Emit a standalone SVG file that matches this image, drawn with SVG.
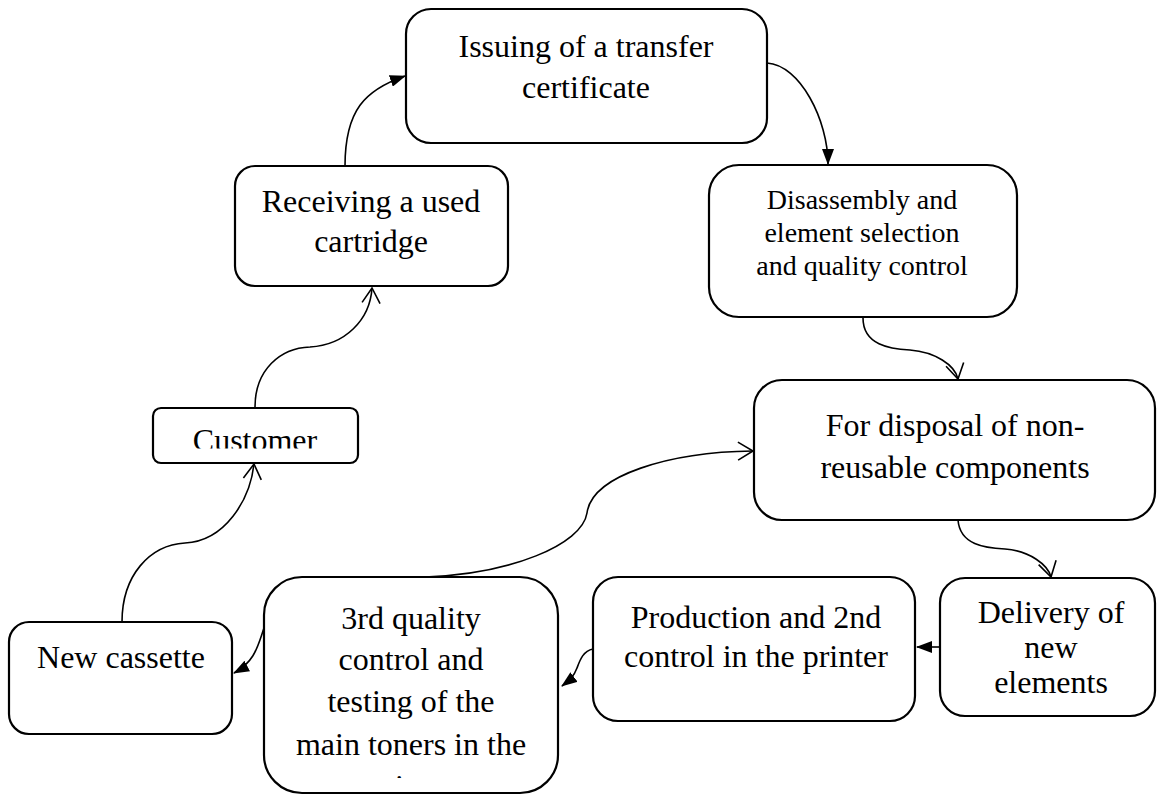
<svg xmlns="http://www.w3.org/2000/svg" width="1158" height="797" viewBox="0 0 1158 797">
<style>
.box{fill:#fff;stroke:#000;stroke-width:2.2}
.t{font-family:"Liberation Serif","Times New Roman",serif;font-size:32px;fill:#000;text-anchor:middle}
.s{font-size:28px}
.c{fill:none;stroke:#000;stroke-width:1.6}
.fa{marker-end:url(#fa)}
.oa{marker-end:url(#oa)}
</style>
<defs>
<marker id="fa" markerUnits="userSpaceOnUse" markerWidth="16" markerHeight="12" viewBox="0 0 16 12" refX="15" refY="6" orient="auto">
<path d="M0,0 L16,6 L0,12 z" fill="#000"/>
</marker>
<marker id="oa" markerUnits="userSpaceOnUse" markerWidth="22" markerHeight="22" viewBox="0 0 22 22" refX="18" refY="11" orient="auto">
<path d="M3,2 L18,11 L3,20" fill="none" stroke="#000" stroke-width="1.6"/>
</marker>
<clipPath id="clipCust"><rect x="150" y="405" width="212" height="43.5"/></clipPath>
<clipPath id="clipQ"><rect x="260" y="575" width="300" height="203"/></clipPath>
</defs>
<g id="connectors">
<path class="c fa" d="M345,166 C345,110 365,90 405,76"/>
<path class="c fa" d="M767,63 C800,65 828,120 828,164"/>
<path class="c oa" d="M863,318 C863,345 890,349 910,350 C935,352 955,365 958,379"/>
<path class="c oa" d="M958,520 C960,545 985,548 1005,549 C1030,551 1048,565 1051,577"/>
<path class="c fa" d="M940,647 L917,647"/>
<path class="c fa" d="M593,649 C583,651 580,660 577,668 C574,676 570,680 562,686"/>
<path class="c fa" d="M264,628 C258,645 255,662 234,673"/>
<path class="c oa" d="M122,622 C122,575 150,545 185,543 C225,541 250,500 254,464"/>
<path class="c oa" d="M255,407 C255,370 280,348 310,347 C345,345 370,320 372,288"/>
<path class="c oa" d="M425,577 C510,574 582,545 587,513 C592,475 670,452 753,451"/>
</g>
<g id="issuing">
<rect class="box" x="406" y="9" width="361" height="134" rx="25"/>
<text class="t" x="586" y="57">Issuing of a transfer</text>
<text class="t" x="586" y="98">certificate</text>
</g>
<g id="receiving">
<rect class="box" x="235" y="166" width="273" height="120" rx="20"/>
<text class="t" x="371" y="212">Receiving a used</text>
<text class="t" x="371" y="252">cartridge</text>
</g>
<g id="disassembly">
<rect class="box" x="709" y="165" width="308" height="152" rx="30"/>
<text class="t s" x="862" y="209">Disassembly and</text>
<text class="t s" x="862" y="242">element selection</text>
<text class="t s" x="862" y="275">and quality control</text>
</g>
<g id="disposal">
<rect class="box" x="754" y="380" width="401" height="140" rx="28"/>
<text class="t" x="955" y="436">For disposal of non-</text>
<text class="t" x="955" y="478">reusable components</text>
</g>
<g id="delivery">
<rect class="box" x="940" y="578" width="215" height="138" rx="25"/>
<text class="t" x="1051" y="623">Delivery of</text>
<text class="t" x="1051" y="658">new</text>
<text class="t" x="1051" y="693">elements</text>
</g>
<g id="production">
<rect class="box" x="593" y="577" width="322" height="144" rx="25"/>
<text class="t" x="756" y="628">Production and 2nd</text>
<text class="t" x="756" y="667">control in the printer</text>
</g>
<g id="quality">
<rect class="box" x="264" y="577" width="294" height="216" rx="38"/>
<text class="t" x="411" y="629">3rd quality</text>
<text class="t" x="411" y="670">control and</text>
<text class="t" x="411" y="712">testing of the</text>
<text class="t" x="411" y="755">main toners in the</text>
<text class="t" x="411" y="797" clip-path="url(#clipQ)">printer</text>
</g>
<g id="cassette">
<rect class="box" x="9" y="622" width="223" height="112" rx="20"/>
<text class="t" x="121" y="668">New cassette</text>
</g>
<g id="customer">
<rect class="box" x="153" y="408" width="205" height="55" rx="8"/>
<text class="t" x="255" y="451" clip-path="url(#clipCust)">Customer</text>
</g>
</svg>
